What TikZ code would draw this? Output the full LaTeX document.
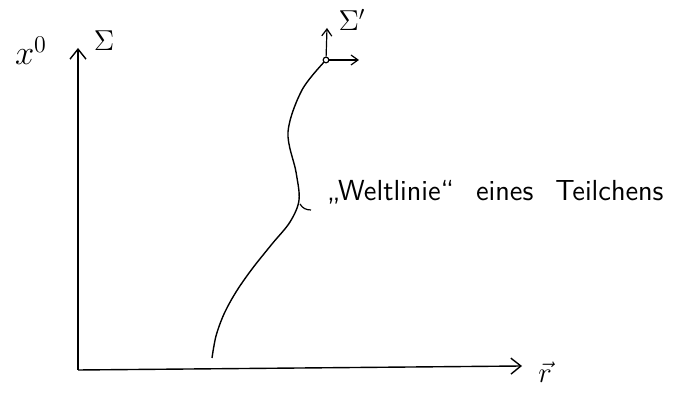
\documentclass[tikz,border=0pt]{standalone}
\usepackage{amsmath}
\usetikzlibrary{arrows.meta}

\begin{document}
\begin{tikzpicture}[x=0.5pt,y=0.5pt,
    every node/.style={font=\Large},
    axis/.style={line width=0.7pt,-{Straight Barb[length=5pt,width=8pt]}},
    frm/.style={line width=0.6pt,-{Straight Barb[length=3.5pt,width=5pt]}},
    wline/.style={line width=0.7pt},
    evt/.style={circle,draw,line width=0.6pt,inner sep=1pt,fill=white}]
  \useasboundingbox (0,0) rectangle (683,394);
  % Achsen von Sigma
  \coordinate (o) at (78,24);
  \coordinate (ytop) at (78,346);
  \coordinate (xend) at (522,28);
  \node[font=\LARGE] (x0) at (31,343) {$x^0$};
  \node (sig) at (104,353) {$\Sigma$};
  \node (r) at (545,22) {$\vec r$};
  \draw[axis] (o) -- (ytop);
  \draw[axis] (o) -- (xend);
  % Weltlinie
  \coordinate (w0) at (212,36);
  \coordinate (wa) at (216,58);
  \coordinate (wb) at (224,80);
  \coordinate (wc) at (236,102);
  \coordinate (wd) at (252,125);
  \coordinate (we) at (272,150);
  \coordinate (wf) at (290,172);
  \coordinate (w1) at (299,194);
  \coordinate (wg) at (296,222);
  \coordinate (w2) at (288,262);
  \coordinate (wh) at (302,304);
  \coordinate (e) at (326,334);
  \draw[wline] plot[smooth,tension=0.55] coordinates
     {(w0) (wa) (wb) (wc) (wd) (we) (wf) (w1) (wg) (w2) (wh) (e)};
  \node[evt] (ev) at (e) {};
  % Sigma'
  \coordinate (et) at (327,366);
  \coordinate (ex) at (359,334);
  \draw[frm] (ev) -- (et);
  \draw[frm] (ev) -- (ex);
  \node[inner sep=1pt] (sigp) at (352,374) {$\Sigma'$};
  % Beschriftung
  \node[anchor=base west,font=\sffamily\fontsize{14.5}{17}\selectfont] (wl) at (320,193)
     {„Weltlinie“\hspace{11pt}eines\hspace{11pt}Teilchens};
  \coordinate (tk) at (300,190);
  \coordinate (tke) at (311,184);
  \draw[line width=0.6pt] (tk) to[out=-60,in=180] (tke);
\end{tikzpicture}
\end{document}
